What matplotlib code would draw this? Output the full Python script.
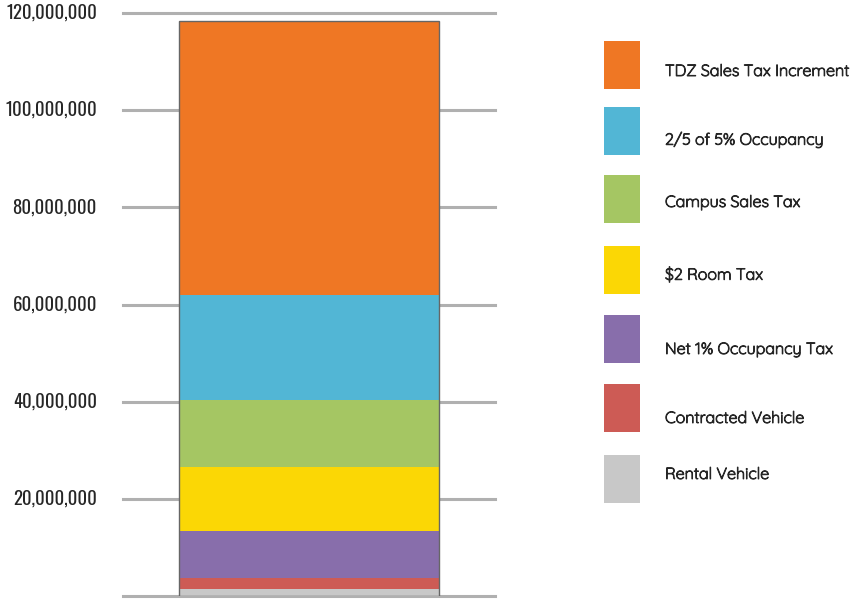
import matplotlib
matplotlib.use('Agg')
import matplotlib.pyplot as plt
import matplotlib.patheffects as pe
from matplotlib.patches import Rectangle

# ── Data (stacked from bottom to top) ─────────────────────────────
sources = ['Rental Vehicle', 'Contracted Vehicle', 'Net 1% Occupancy Tax',
           '$2 Room Tax', 'Campus Sales Tax', '2/5 of 5% Occupancy',
           'TDZ Sales Tax Increment']
amounts = [1_400_000, 2_300_000, 9_700_000, 13_100_000, 13_800_000,
           21_600_000, 56_400_000]
colors = ['#c8c8c8', '#cd5b55', '#886eab', '#fbd705', '#a5c663',
          '#52b6d5', '#ef7724']
yticks = [20_000_000, 40_000_000, 60_000_000, 80_000_000, 100_000_000, 120_000_000]

NUM_FONT = ['Oswald', 'Barlow Condensed', 'Roboto Condensed', 'DejaVu Sans']
LEG_FONT = ['Quicksand', 'Lato', 'DejaVu Sans']
INK = '#262626'

fig = plt.figure(figsize=(8.52, 5.99), dpi=100)
W, H = 852, 599
ax = fig.add_axes([123 / W, 3 / H, 372 / W, 583 / H])
ax.set_xlim(0, 1)
ax.set_ylim(0, 120_000_000)
ax.axis('off')

# horizontal rules
for t in [0] + yticks:
    ax.axhline(t, color='#b0b0b0', linewidth=2.2, zorder=1, clip_on=False)

# stacked column
bottom = 0
for amt, col in zip(amounts, colors):
    ax.bar(0.5, amt, width=0.7, bottom=bottom, color=col, linewidth=0, zorder=2)
    bottom += amt
ax.bar(0.5, bottom, width=0.7, bottom=0, facecolor='none', edgecolor='#666666',
       linewidth=1.0, zorder=3)

# axis numbers
for t in yticks:
    ax.text(-0.07, t, f'{t:,}', ha='right', va='top', fontsize=13.5,
            family=NUM_FONT, fontweight='light', color=INK,
            transform=ax.get_yaxis_transform()).set_y(t + 1_900_000)

# legend, top entry first; Quicksand ships light here, so fatten it a touch
heavier = [pe.withStroke(linewidth=0.7, foreground=INK)]
box_top = [41, 107, 175, 246, 315, 384, 455]
text_y = [72, 140, 203, 275, 350, 419, 475]
for i, (lab, col) in enumerate(zip(sources[::-1], colors[::-1])):
    y0 = box_top[i]
    fig.patches.append(Rectangle((604 / W, 1 - (y0 + 48) / H), 36 / W, 48 / H,
                                 transform=fig.transFigure, facecolor=col,
                                 edgecolor='none'))
    fig.text(665 / W, 1 - text_y[i] / H, lab, ha='left', va='center',
             fontsize=11.6, family=LEG_FONT, color=INK, path_effects=heavier)

fig.savefig('out.png', dpi=100)
